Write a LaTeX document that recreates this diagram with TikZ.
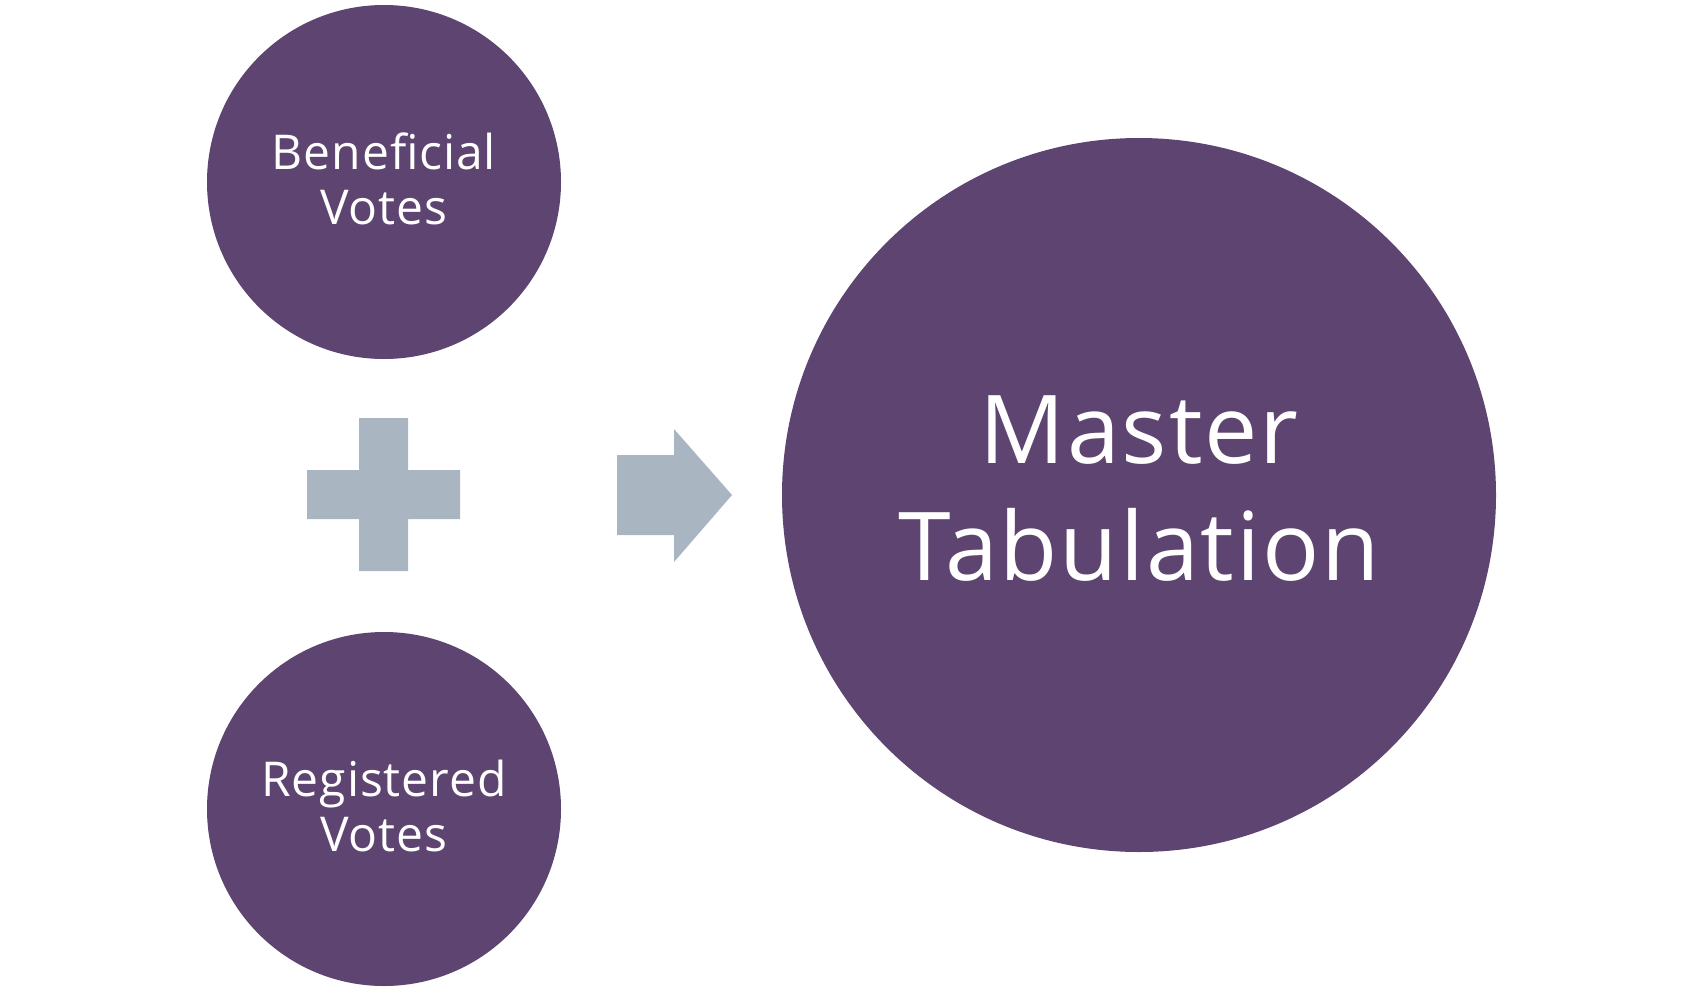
\documentclass[tikz,border=0pt]{standalone}
\usepackage{fontspec}
\setmainfont{Open Sans}[LetterSpace=2]
\definecolor{vpurple}{HTML}{5E4470}
\definecolor{vgray}{HTML}{A9B5C0}
\begin{document}
\begin{tikzpicture}[x=1pt,y=-1pt,
  bubble/.style={circle,fill=vpurple,draw=none,inner sep=0pt},
  label/.style={text=white,align=center,inner sep=0pt},
  smalltext/.style={font=\fontsize{48}{55}\selectfont},
  bigtext/.style={font=\fontsize{95}{117}\selectfont},
  shapefill/.style={fill=vgray,draw=none}]
\useasboundingbox (0,0) rectangle (1702,991);
\node[bubble,minimum size=354pt] (ben) at (384,182) {};
\node[bubble,minimum size=354pt] (reg) at (384,809) {};
\node[bubble,minimum size=714pt] (mt) at (1139,495) {};
\node[label,smalltext] (benlabel) at (384,179) {Beneficial\\Votes};
\node[label,smalltext] (reglabel) at (384,806) {Registered\\Votes};
\node[label,bigtext] (mtlabel) at (1139,489) {Master\\Tabulation};
% plus sign
\fill[shapefill] (359,418) -- (408,418) -- (408,470) -- (460,470) -- (460,519) -- (408,519) -- (408,571) -- (359,571) -- (359,519) -- (307,519) -- (307,470) -- (359,470) -- cycle;
% arrow
\fill[shapefill] (617,455) -- (674,455) -- (674,429) -- (732,495) -- (674,562) -- (674,535) -- (617,535) -- cycle;
\end{tikzpicture}
\end{document}
